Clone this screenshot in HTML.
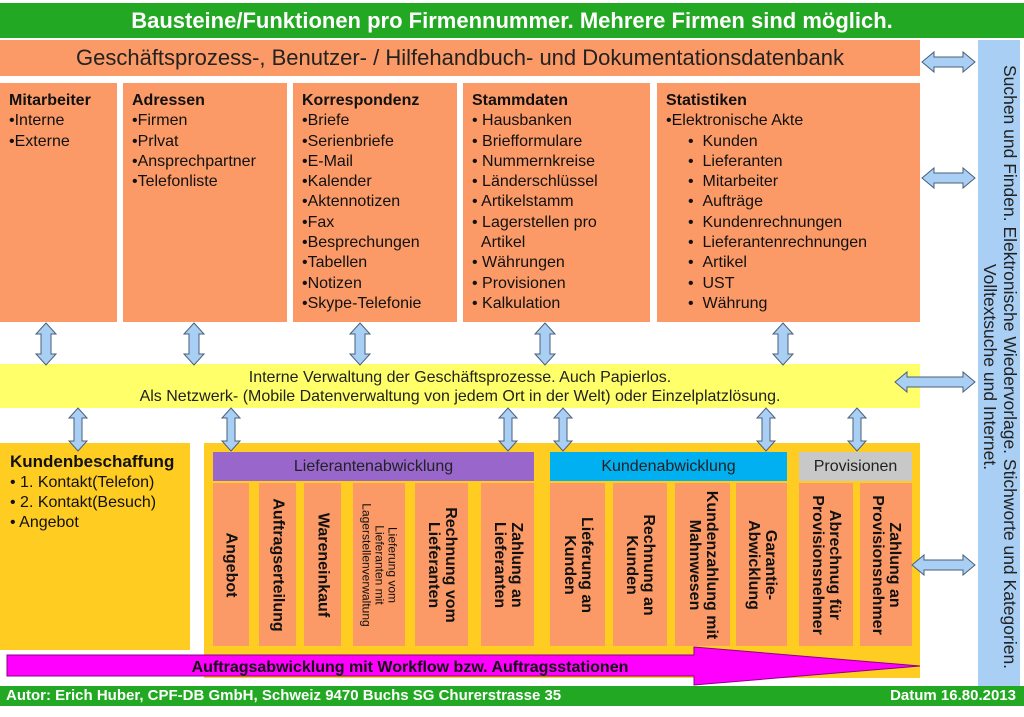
<!DOCTYPE html>
<html><head><meta charset="utf-8"><style>
body{margin:0;width:1024px;height:708px;position:relative;background:#fff;font-family:"Liberation Sans",sans-serif;overflow:hidden}
.a{position:absolute;box-sizing:border-box}
.or{background:#fb9a66}
.box{font-size:16px;line-height:20.3px;padding:8px 0 0 9px;color:#111}
.box b{display:block}
.col{background:#fb9a66;position:absolute;top:483px;height:163px}
.col span{position:absolute;left:50%;top:50%;transform:translate(-50%,-50%) rotate(90deg);white-space:nowrap;font-weight:bold;font-size:16px;line-height:17px;text-align:center;color:#111}
.hd{position:absolute;top:452px;height:29px;font-size:16px;line-height:29px;text-align:center;color:#222}
</style></head><body>
<div class="a" style="left:0;top:3px;width:1024px;height:35px;background:#22a822;color:#fff;font-weight:bold;font-size:22px;line-height:35px;text-align:center;white-space:nowrap">Bausteine/Funktionen pro Firmennummer. Mehrere Firmen sind möglich.</div>
<div class="a or" style="left:0;top:40px;width:920px;height:36px;font-size:22px;line-height:36px;text-align:center;color:#222;white-space:nowrap">Geschäftsprozess-, Benutzer- / Hilfehandbuch- und Dokumentationsdatenbank</div>
<div class="a" style="left:978px;top:40px;width:42px;height:650px;background:#a9cff5"></div>
<div class="a" style="left:1000px;top:367px;width:0;height:0"><div style="position:absolute;left:-350px;top:-20px;width:700px;transform:rotate(90deg);font-size:17.5px;line-height:20px;text-align:center;color:#222;white-space:nowrap">Suchen und Finden. Elektronische Wiedervorlage. Stichworte und Kategorien.<br>Volltextsuche und Internet.</div></div>

<div class="a or box" style="left:0;top:83px;width:117px;height:239px"><b>Mitarbeiter</b>•Interne<br>•Externe</div>
<div class="a or box" style="left:123px;top:83px;width:164px;height:239px"><b>Adressen</b>•Firmen<br>•Prlvat<br>•Ansprechpartner<br>•Telefonliste</div>
<div class="a or box" style="left:293px;top:83px;width:164px;height:239px"><b>Korrespondenz</b>•Briefe<br>•Serienbriefe<br>•E-Mail<br>•Kalender<br>•Aktennotizen<br>•Fax<br>•Besprechungen<br>•Tabellen<br>•Notizen<br>•Skype-Telefonie</div>
<div class="a or box" style="left:463px;top:83px;width:187px;height:239px"><b>Stammdaten</b>• Hausbanken<br>• Briefformulare<br>• Nummernkreise<br>• Länderschlüssel<br>• Artikelstamm<br>• Lagerstellen pro<br>&nbsp;&nbsp;Artikel<br>• Währungen<br>• Provisionen<br>• Kalkulation</div>
<div class="a or box" style="left:657px;top:83px;width:263px;height:239px"><b>Statistiken</b>•Elektronische Akte<br><div style="padding-left:22px">•&nbsp;&nbsp;Kunden<br>•&nbsp;&nbsp;Lieferanten<br>•&nbsp;&nbsp;Mitarbeiter<br>•&nbsp;&nbsp;Aufträge<br>•&nbsp;&nbsp;Kundenrechnungen<br>•&nbsp;&nbsp;Lieferantenrechnungen<br>•&nbsp;&nbsp;Artikel<br>•&nbsp;&nbsp;UST<br>•&nbsp;&nbsp;Währung</div></div>

<div class="a" style="left:0;top:364px;width:920px;height:44px;background:#ffff6a;font-size:16px;line-height:19px;text-align:center;padding-top:4px;color:#222">Interne Verwaltung der Geschäftsprozesse. Auch Papierlos.<br>Als Netzwerk- (Mobile Datenverwaltung von jedem Ort in der Welt) oder Einzelplatzlösung.</div>

<div class="a" style="left:0;top:443px;width:190px;height:207px;background:#ffcc22;font-size:16px;line-height:20px;padding:9px 0 0 10px;color:#111"><b style="font-size:17px">Kundenbeschaffung</b><br>• 1. Kontakt(Telefon)<br>• 2. Kontakt(Besuch)<br>• Angebot</div>
<div class="a" style="left:204px;top:443px;width:716px;height:235px;background:#ffcc22"></div>
<div class="hd" style="left:213px;width:321px;background:#9966cc">Lieferantenabwicklung</div>
<div class="hd" style="left:550px;width:237px;background:#00b0f0">Kundenabwicklung</div>
<div class="hd" style="left:799px;width:113px;background:#c8c8c8">Provisionen</div>

<div class="col" style="left:213px;width:36px"><span>Angebot</span></div>
<div class="col" style="left:259px;width:37px"><span>Auftragserteilung</span></div>
<div class="col" style="left:304px;width:37px"><span>Wareneinkauf</span></div>
<div class="col" style="left:353px;width:52px"><span style="font-size:12px;line-height:13px;font-weight:normal">Lieferung vom<br>Lieferanten mit<br>Lagerstellenverwaltung</span></div>
<div class="col" style="left:415px;width:53px"><span>Rechnung vom<br>Lieferanten</span></div>
<div class="col" style="left:481px;width:53px"><span>Zahlung an<br>Lieferanten</span></div>
<div class="col" style="left:550px;width:55px"><span>Lieferung an<br>Kunden</span></div>
<div class="col" style="left:613px;width:54px"><span>Rechnung an<br>Kunden</span></div>
<div class="col" style="left:675px;width:55px"><span>Kundenzahlung mit<br>Mahnwesen</span></div>
<div class="col" style="left:736px;width:51px"><span>Garantie-<br>Abwicklung</span></div>
<div class="col" style="left:799px;width:54px"><span>Abrechnug für<br>Provisionsnehmer</span></div>
<div class="col" style="left:860px;width:52px"><span>Zahlung an<br>Provisionsnehmer</span></div>

<div class="a" style="left:0;top:686px;width:1024px;height:20px;background:#22a822;color:#fff;font-weight:bold;font-size:15px;line-height:20px;padding:0 6px;"><span>Autor: Erich Huber, CPF-DB GmbH, Schweiz 9470 Buchs SG Churerstrasse 35</span><span style="position:absolute;right:8px">Datum 16.80.2013</span></div>

<svg class="a" style="left:0;top:0" width="1024" height="708">
<g fill="#ff00ff" stroke="#880088" stroke-width="1">
<path d="M7,655 L694,655 L694,647 L920,666 L694,685 L694,676 L7,676 Z"/>
</g>
<text x="410" y="672" font-family="Liberation Sans" font-weight="bold" font-size="16" text-anchor="middle" fill="#111">Auftragsabwicklung mit Workflow bzw. Auftragsstationen</text>
<g fill="#a9cff5" stroke="#4a5f7a" stroke-width="1">
<path d="M46,323 l10,11 h-5 v20 h5 l-10,11 l-10,-11 h5 v-20 h-5 z"/>
<path d="M194,323 l10,11 h-5 v20 h5 l-10,11 l-10,-11 h5 v-20 h-5 z"/>
<path d="M360,323 l10,11 h-5 v20 h5 l-10,11 l-10,-11 h5 v-20 h-5 z"/>
<path d="M545,323 l10,11 h-5 v20 h5 l-10,11 l-10,-11 h5 v-20 h-5 z"/>
<path d="M783,323 l10,11 h-5 v20 h5 l-10,11 l-10,-11 h5 v-20 h-5 z"/>
<path d="M78,408 l9,10 h-5 v23 h5 l-9,10 l-9,-10 h5 v-23 h-5 z"/>
<path d="M231,408 l9,10 h-5 v23 h5 l-9,10 l-9,-10 h5 v-23 h-5 z"/>
<path d="M508,408 l9,10 h-5 v23 h5 l-9,10 l-9,-10 h5 v-23 h-5 z"/>
<path d="M563,408 l9,10 h-5 v23 h5 l-9,10 l-9,-10 h5 v-23 h-5 z"/>
<path d="M766,408 l9,10 h-5 v23 h5 l-9,10 l-9,-10 h5 v-23 h-5 z"/>
<path d="M857,408 l9,10 h-5 v23 h5 l-9,10 l-9,-10 h5 v-23 h-5 z"/>
<path d="M922,62 l12,-10 v5 h29 v-5 l12,10 l-12,10 v-5 h-29 v5 z"/>
<path d="M922,178 l12,-10 v5 h29 v-5 l12,10 l-12,10 v-5 h-29 v5 z"/>
<path d="M895,382 l12,-10 v5 h56 v-5 l12,10 l-12,10 v-5 h-56 v5 z"/>
<path d="M912,565 l12,-10 v5 h39 v-5 l12,10 l-12,10 v-5 h-39 v5 z"/>
</g>
</svg>
</body></html>
